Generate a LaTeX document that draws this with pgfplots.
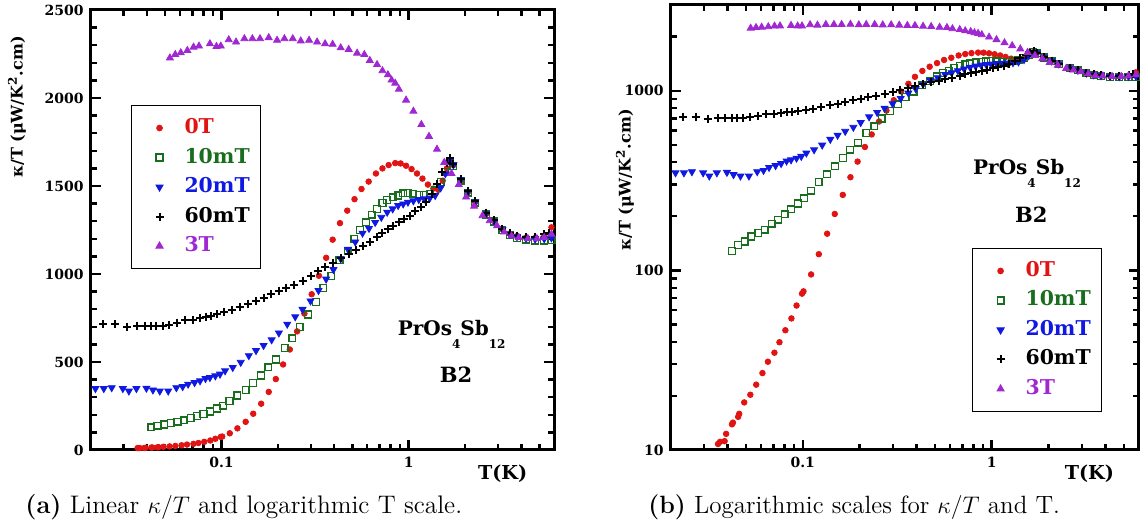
\documentclass[border=0pt]{standalone}
\usepackage{pgfplots}
\pgfplotsset{compat=1.18}
\usepackage{pgfplotstable}
\usepackage{fontspec}
\newfontfamily\pf{DejaVu Serif}
\definecolor{cR}{RGB}{225,20,20}
\definecolor{cG}{RGB}{25,110,30}
\definecolor{cB}{RGB}{15,25,225}
\definecolor{cP}{RGB}{160,40,210}

\pgfplotstableread{
T v
0.0356 10.8
0.0365 11.1
0.0386 11.2
0.0393 12.3
0.0422 13.9
0.0427 14.2
0.0455 15.3
0.0461 15.9
0.0490 18.4
0.0528 20.3
0.0567 23.1
0.0612 26.8
0.0654 31.0
0.0708 34.8
0.0753 39.8
0.0809 46.4
0.0871 54.0
0.0927 63.7
0.0991 74.2
0.1009 76.4
0.1107 94.9
0.1216 123
0.1346 160
0.1477 206
0.1629 263
0.1788 330
0.1951 403
0.2133 486
0.2317 571
0.2535 674
0.2773 775
0.3033 885
0.3315 990
0.3624 1092
0.3926 1195
0.4295 1289
0.4697 1360
0.5137 1425
0.5598 1483
0.6113 1525
0.6686 1571
0.7244 1600
0.7818 1619
0.8475 1630
0.9059 1628
0.9686 1615
1.036 1596
1.108 1571
1.185 1542
1.267 1508
1.355 1485
1.44 1478
1.52 1530
1.60 1600
1.67 1640
1.734 1619
1.897 1533
2.074 1465
2.266 1408
2.592 1341
2.858 1303
3.169 1255
3.465 1230
3.791 1216
4.239 1207
4.740 1205
5.300 1215
5.795 1265
}\tzero

\pgfplotstableread{
T v
0.0422 128.5
0.0455 138.6
0.0492 144.7
0.0535 154.4
0.0582 161.4
0.0628 168.5
0.0684 182.0
0.0740 191.8
0.0801 204.8
0.0868 218.6
0.0944 235.5
0.1018 251.4
0.1103 277.5
0.1215 309.4
0.1346 342.2
0.1477 379.6
0.1629 423
0.1779 469.5
0.1959 514
0.2172 580
0.2393 634
0.2614 700
0.2895 770
0.3192 840
0.350 920
0.386 990
0.427 1079
0.472 1130
0.512 1199
0.550 1251
0.593 1293
0.634 1337
0.678 1370
0.725 1402
0.768 1421
0.822 1435
0.879 1446
0.935 1458
0.991 1460
1.060 1456
1.133 1450
1.211 1450
1.296 1456
1.386 1475
1.483 1523
1.571 1580
1.656 1640
1.734 1615
1.897 1530
2.074 1462
2.266 1405
2.592 1338
2.858 1298
3.169 1250
3.465 1222
3.791 1205
4.239 1195
4.740 1190
5.300 1190
5.795 1192
}\tten

\pgfplotstableread{
T v
0.0212 349
0.0235 349
0.0259 354
0.0297 349
0.0320 335
0.0351 349
0.0397 351
0.0430 341
0.0468 335
0.0519 335
0.0574 354
0.0620 360
0.0663 374
0.0718 383
0.0768 393
0.0821 406
0.0867 412
0.0927 421
0.0982 431
0.1045 450
0.1148 469
0.1267 498
0.1399 536
0.1529 565
0.1678 594
0.1853 626
0.2026 665
0.2245 715
0.2476 757
0.2709 799
0.2989 847
0.3298 906
0.3622 971
0.3962 1025
0.4333 1086
0.4739 1140
0.5183 1182
0.5669 1232
0.6140 1259
0.6624 1293
0.7146 1322
0.7679 1351
0.8215 1370
0.8786 1389
0.9349 1398
0.9912 1408
1.060 1416
1.133 1423
1.211 1427
1.296 1431
1.386 1446
1.483 1490
1.571 1570
1.656 1640
1.734 1620
1.897 1535
2.074 1466
2.266 1410
2.592 1342
2.858 1300
3.169 1253
3.465 1226
3.791 1212
4.239 1203
4.740 1198
5.300 1200
5.795 1205
}\ttwenty

\pgfplotstableread{
T v
0.0232 715
0.0271 715
0.0314 699
0.0355 707
0.0388 707
0.0420 707
0.0449 707
0.0484 703
0.0525 713
0.0579 722
0.0639 738
0.0703 738
0.0768 751
0.0828 757
0.0874 761
0.0948 770
0.1036 782
0.1134 795
0.1250 810
0.1386 829
0.1529 847
0.1678 866
0.1836 885
0.2026 904
0.2217 923
0.2446 939
0.2709 962
0.2989 987
0.3286 1015
0.3593 1038
0.3926 1063
0.4333 1092
0.4783 1115
0.5254 1136
0.5669 1159
0.6199 1182
0.6777 1211
0.7244 1232
0.7746 1255
0.8283 1274
0.8866 1293
0.9480 1312
1.014 1331
1.084 1356
1.159 1379
1.239 1408
1.325 1456
1.417 1513
1.515 1580
1.600 1628
1.672 1657
1.734 1625
1.897 1540
2.074 1470
2.266 1412
2.592 1345
2.858 1305
3.169 1258
3.465 1232
3.791 1218
4.239 1210
4.740 1212
5.300 1225
5.600 1235
}\tsixty

\pgfplotstableread{
T v
0.0530 2228
0.0566 2247
0.0606 2257
0.0657 2270
0.0709 2289
0.0758 2295
0.0867 2308
0.0940 2293
0.0991 2295
0.1093 2331
0.1196 2318
0.1325 2337
0.1462 2337
0.1606 2337
0.1788 2343
0.1981 2328
0.2168 2337
0.2403 2337
0.2651 2324
0.2937 2328
0.3241 2318
0.3577 2308
0.3926 2305
0.4333 2285
0.4783 2276
0.5302 2255
0.5795 2247
0.6199 2213
0.6777 2190
0.7244 2155
0.7746 2132
0.8106 2102
0.8475 2084
0.8866 2050
0.9686 1988
1.060 1925
1.169 1849
1.284 1782
1.417 1709
1.549 1634
1.694 1571
1.853 1508
2.027 1437
2.237 1385
2.479 1331
2.712 1303
2.966 1274
3.243 1239
3.546 1216
3.876 1207
4.335 1201
4.846 1201
5.300 1207
5.795 1226
}\tthree

\begin{document}
\begin{tikzpicture}
\path[use as bounding box] (0,0) rectangle (573.5pt,264.5pt);

\begin{axis}[
  scale only axis,
  xmode=log, xmin=0.02, xmax=6,
  at={(45.35pt,39.5pt)}, anchor=south west,
  width=231.8pt, height=220pt,
  xtick={0.1,1}, xticklabels={0.1,1},
  minor xtick={0.02,0.03,0.04,0.05,0.06,0.07,0.08,0.09,0.2,0.3,0.4,0.5,0.6,0.7,0.8,0.9,2,3,4,5},
  ymin=0, ymax=2500,
  ytick={0,500,1000,1500,2000,2500},
  yticklabels={0,500,1000,1500,2000,2500},
  minor y tick num=4,
  tick align=inside, tick pos=both,
  axis line style={line width=1.5pt},
  major tick length=5pt, minor tick length=3pt,
  major tick style={line width=1.2pt, black},
  minor tick style={line width=1.2pt, black},
  ticklabel style={font=\pf\bfseries\fontsize{7}{7}\selectfont},
  legend cell align=left,
  legend image code/.code={\path (0pt,0pt) (20pt,0pt); \draw[#1] plot coordinates {(9.5pt,0pt)};},
  legend style={draw=black, line width=0.5pt,
    font=\pf\bfseries\fontsize{10.2}{10.2}\selectfont,
    inner xsep=4pt, inner ysep=5.5pt, row sep=3.25pt,
    nodes={inner sep=1.5pt, text height=7pt, text depth=1.5pt},
    at={(0.087,0.784)}, anchor=north west},
]
\addplot[only marks, mark=*, color=cR, mark size=1.4pt] table[x=T,y=v] {\tzero};
\addplot[only marks, mark=square, color=cG, mark size=1.7pt, line width=0.65pt] table[x=T,y=v] {\tten};
\addplot[only marks, mark=triangle*, color=cB, mark size=2pt, mark options={rotate=180}] table[x=T,y=v] {\ttwenty};
\addplot[only marks, mark=+, color=black, mark size=2pt, line width=1pt] table[x=T,y=v] {\tsixty};
\addplot[only marks, mark=triangle*, color=cP, mark size=2pt] table[x=T,y=v] {\tthree};
\legend{\textcolor{cR}{0T},\textcolor{cG}{10mT},\textcolor{cB}{20mT},\textcolor{black}{60mT},\textcolor{cP}{3T}}
\end{axis}

\begin{axis}[
  scale only axis,
  xmode=log, xmin=0.02, xmax=6,
  ymode=log, ymin=10, ymax=3000,
  at={(335.35pt,39.5pt)}, anchor=south west,
  width=234pt, height=222.5pt,
  xtick={0.1,1}, xticklabels={0.1,1},
  minor xtick={0.02,0.03,0.04,0.05,0.06,0.07,0.08,0.09,0.2,0.3,0.4,0.5,0.6,0.7,0.8,0.9,2,3,4,5},
  ytick={10,100,1000}, yticklabels={10,100,1000},
  minor ytick={20,30,40,50,60,70,80,90,200,300,400,500,600,700,800,900,2000,3000},
  tick align=inside, tick pos=both,
  axis line style={line width=1.5pt},
  major tick length=5pt, minor tick length=3pt,
  major tick style={line width=1.2pt, black},
  minor tick style={line width=1.2pt, black},
  ticklabel style={font=\pf\bfseries\fontsize{7}{7}\selectfont},
  legend cell align=left,
  legend image code/.code={\path (0pt,0pt) (20pt,0pt); \draw[#1] plot coordinates {(9.5pt,0pt)};},
  legend style={draw=black, line width=0.5pt,
    font=\pf\bfseries\fontsize{10.2}{10.2}\selectfont,
    inner xsep=4pt, inner ysep=5.5pt, row sep=3.25pt,
    nodes={inner sep=1.5pt, text height=7pt, text depth=1.5pt},
    at={(0.644,0.454)}, anchor=north west},
]
\addplot[only marks, mark=*, color=cR, mark size=1.4pt] table[x=T,y=v] {\tzero};
\addplot[only marks, mark=square, color=cG, mark size=1.7pt, line width=0.65pt] table[x=T,y=v] {\tten};
\addplot[only marks, mark=triangle*, color=cB, mark size=2pt, mark options={rotate=180}] table[x=T,y=v] {\ttwenty};
\addplot[only marks, mark=+, color=black, mark size=2pt, line width=1pt] table[x=T,y=v] {\tsixty};
\addplot[only marks, mark=triangle*, color=cP, mark size=2pt] table[x=T,y=v] {\tthree};
\legend{\textcolor{cR}{0T},\textcolor{cG}{10mT},\textcolor{cB}{20mT},\textcolor{black}{60mT},\textcolor{cP}{3T}}
\end{axis}

\node[rotate=90, font=\pf\bfseries\fontsize{8}{8}\selectfont] at (8.5pt,211pt) {κ/T (μW/K\textsuperscript{2}.cm)};
\node[rotate=90, font=\pf\bfseries\fontsize{8}{8}\selectfont] at (312.5pt,174.5pt) {κ/T (μW/K\textsuperscript{2}.cm)};
\node[anchor=base west, inner sep=0pt, font=\pf\bfseries\fontsize{9.6}{9.6}\selectfont] at (238.85pt,24.5pt) {T(K)};
\node[anchor=base west, inner sep=0pt, font=\pf\bfseries\fontsize{9.6}{9.6}\selectfont] at (532.2pt,24.5pt) {T(K)};
\node[anchor=base west, inner sep=0pt, font=\pf\bfseries\fontsize{10}{10}\selectfont] at (198.7pt,96.8pt) {PrOs\raisebox{-6.5pt}{\fontsize{6}{6}\selectfont 4}Sb\raisebox{-6.5pt}{\fontsize{6}{6}\selectfont 12}};
\node[anchor=base, inner sep=0pt, font=\pf\bfseries\fontsize{10.5}{10.5}\selectfont] at (228pt,73pt) {B2};
\node[anchor=base west, inner sep=0pt, font=\pf\bfseries\fontsize{10}{10}\selectfont] at (486.4pt,177pt) {PrOs\raisebox{-6.5pt}{\fontsize{6}{6}\selectfont 4}Sb\raisebox{-6.5pt}{\fontsize{6}{6}\selectfont 12}};
\node[anchor=base, inner sep=0pt, font=\pf\bfseries\fontsize{10.5}{10.5}\selectfont] at (515.65pt,153pt) {B2};
\node[anchor=base west, inner sep=0pt, font=\fontsize{12.7}{12.7}\selectfont] at (12.5pt,7.5pt) {\textbf{(a)} Linear $\kappa/T$ and logarithmic T scale.};
\node[anchor=base west, inner sep=0pt, font=\fontsize{12.5}{12.5}\selectfont] at (324pt,7.5pt) {\textbf{(b)} Logarithmic scales for $\kappa/T$ and T.};
\end{tikzpicture}
\end{document}
